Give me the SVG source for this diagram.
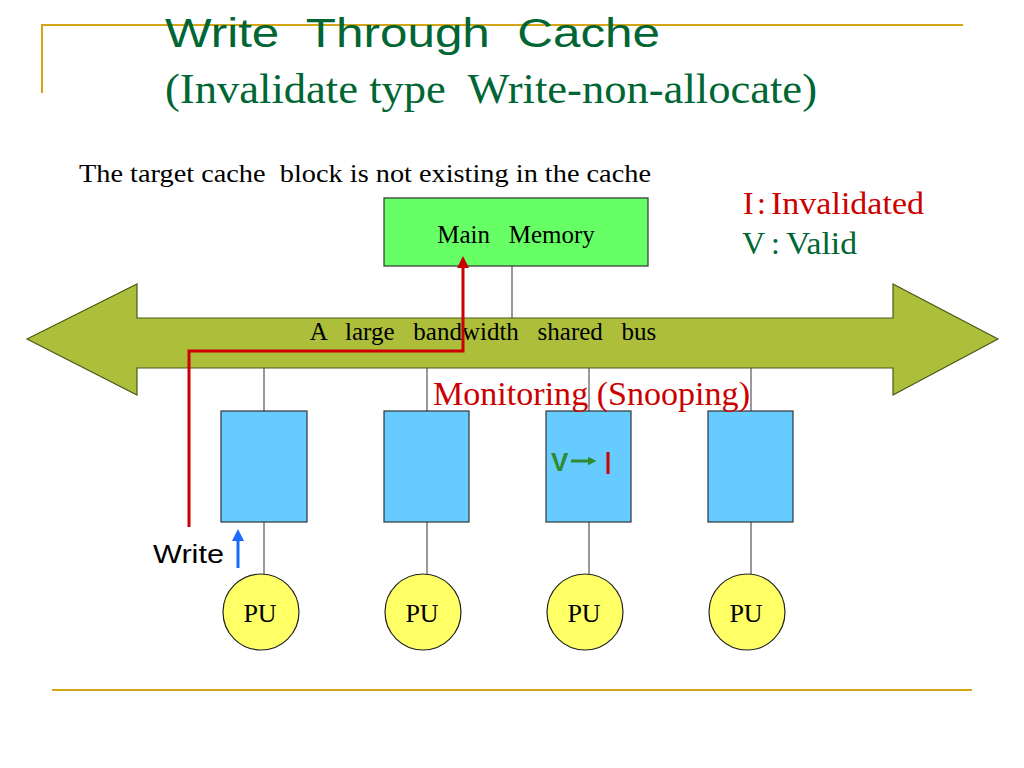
<svg xmlns="http://www.w3.org/2000/svg" width="1024" height="768" viewBox="0 0 1024 768">
<defs>
<style>
text{white-space:pre}
.serif{font-family:"Liberation Serif","Times New Roman","Noto Sans CJK JP",serif}
.sans{font-family:"Liberation Sans",Arial,sans-serif}
.gold{stroke:#d4a514;stroke-width:2;fill:none}
.box{stroke:#333;stroke-width:1.2}
.cache{fill:#66ccff;stroke:#333;stroke-width:1.2}
.pu{fill:#ffff66;stroke:#222;stroke-width:1.2}
.wire{stroke:#555;stroke-width:1.2;fill:none}
</style>
<marker id="redHead" viewBox="0 0 10 10" refX="5" refY="5" markerWidth="4" markerHeight="4" orient="auto"><path d="M0,0 L10,5 L0,10 z" fill="#cc0000"/></marker>
<marker id="blueHead" viewBox="0 0 10 10" refX="5" refY="5" markerWidth="4" markerHeight="4" orient="auto"><path d="M0,0 L10,5 L0,10 z" fill="#1a6aff"/></marker>
<marker id="greenHead" viewBox="0 0 10 10" refX="5" refY="5" markerWidth="3" markerHeight="3" orient="auto"><path d="M0,0 L10,5 L0,10 z" fill="#2e8b2e"/></marker>
</defs>
<rect width="1024" height="768" fill="#fff"/>
<g id="frame">
<path class="gold" d="M42,93 V25 H963"/>
<path class="gold" d="M52,690 H972"/>
</g>
<g id="title">
<text class="sans" x="165" y="47" font-size="40" fill="#006633" textLength="495" lengthAdjust="spacingAndGlyphs" xml:space="preserve">Write  Through  Cache</text>
<text class="serif" x="165" y="103" font-size="43" fill="#006633" textLength="652" lengthAdjust="spacingAndGlyphs" xml:space="preserve">(Invalidate type  Write-non-allocate)</text>
</g>
<text class="serif" x="79" y="182" font-size="26" fill="#000" textLength="572" lengthAdjust="spacingAndGlyphs" xml:space="preserve">The target cache  block is not existing in the cache</text>
<g id="legend">
<text class="serif" font-size="32" fill="#cc0000"><tspan x="743" y="214">I</tspan><tspan x="757" y="214">:</tspan><tspan x="771" y="214" textLength="153" lengthAdjust="spacingAndGlyphs">Invalidated</tspan></text>
<text class="serif" font-size="32" fill="#006633"><tspan x="742" y="254">V</tspan><tspan x="771" y="254">:</tspan><tspan x="786" y="254" textLength="71" lengthAdjust="spacingAndGlyphs">Valid</tspan></text>
</g>
<g id="connectors">
<line class="wire" x1="512" y1="266" x2="512" y2="318"/>
<line class="wire" x1="264" y1="368" x2="264" y2="411"/>
<line class="wire" x1="427" y1="368" x2="427" y2="411"/>
<line class="wire" x1="589" y1="368" x2="589" y2="411"/>
<line class="wire" x1="751" y1="368" x2="751" y2="411"/>
<line class="wire" x1="264" y1="522" x2="264" y2="574"/>
<line class="wire" x1="427" y1="522" x2="427" y2="574"/>
<line class="wire" x1="589" y1="522" x2="589" y2="574"/>
<line class="wire" x1="751" y1="522" x2="751" y2="574"/>
</g>
<g id="memory">
<rect class="box" x="384" y="198" width="264" height="68" fill="#66ff66"/>
<text class="serif" x="516" y="243" font-size="25" text-anchor="middle" fill="#000" xml:space="preserve">Main   Memory</text>
</g>
<g id="bus">
<path d="M27,339 L137,284 L137,318 L893,318 L893,284 L998,339 L893,395 L893,368 L137,368 L137,395 Z" fill="#adbf3a" stroke="#4a5a1a" stroke-width="1.2"/>
<text class="serif" x="483" y="340" font-size="25" text-anchor="middle" fill="#000" xml:space="preserve">A   large   bandwidth   shared   bus</text>
</g>
<g id="cache1"><rect class="cache" x="221" y="411" width="86" height="111"/></g>
<g id="cache2"><rect class="cache" x="384" y="411" width="85" height="111"/></g>
<g id="cache3"><rect class="cache" x="546" y="411" width="85" height="111"/>
<text class="sans" x="551" y="471" font-size="26" font-weight="bold" fill="#2e8b2e">V</text>
<line x1="571" y1="461" x2="592" y2="461" stroke="#2e8b2e" stroke-width="3" marker-end="url(#greenHead)"/>
<line x1="608" y1="452" x2="608" y2="474" stroke="#cc0000" stroke-width="3"/>
</g>
<g id="cache4"><rect class="cache" x="708" y="411" width="85" height="111"/></g>
<text class="serif" x="433" y="405" font-size="33" fill="#cc0000" textLength="317" lengthAdjust="spacingAndGlyphs">Monitoring (Snooping)</text>
<g id="pu1"><circle class="pu" cx="261" cy="612" r="38"/><text class="serif" x="260" y="622" font-size="26" text-anchor="middle">PU</text></g>
<g id="pu2"><circle class="pu" cx="423" cy="612" r="38"/><text class="serif" x="422" y="622" font-size="26" text-anchor="middle">PU</text></g>
<g id="pu3"><circle class="pu" cx="585" cy="612" r="38"/><text class="serif" x="584" y="622" font-size="26" text-anchor="middle">PU</text></g>
<g id="pu4"><circle class="pu" cx="747" cy="612" r="38"/><text class="serif" x="746" y="622" font-size="26" text-anchor="middle">PU</text></g>
<g id="flow">
<path d="M189,527 V351 H463 V262" fill="none" stroke="#cc0000" stroke-width="3" marker-end="url(#redHead)"/>
<line x1="238" y1="568" x2="238" y2="535" stroke="#1a6aff" stroke-width="3" marker-end="url(#blueHead)"/>
<text class="sans" x="153" y="563" font-size="25" fill="#000" textLength="71" lengthAdjust="spacingAndGlyphs">Write</text>
</g>
</svg>
